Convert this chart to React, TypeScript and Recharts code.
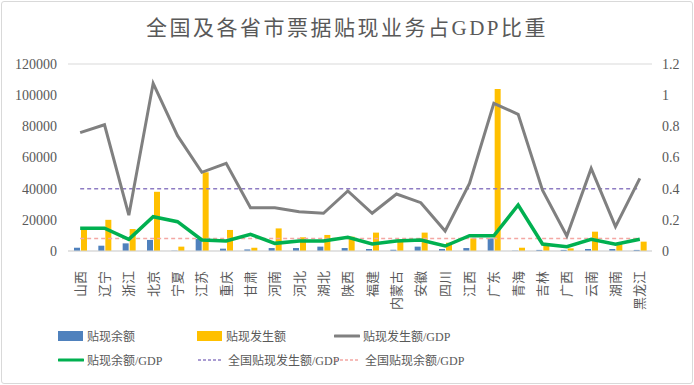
import React from 'react';
import { ComposedChart, Bar, Line, XAxis, YAxis, CartesianGrid } from 'recharts';

const provinces = ['山西', '辽宁', '浙江', '北京', '宁夏', '江苏', '重庆', '甘肃', '河南', '河北', '湖北', '陕西', '福建', '内蒙古', '安徽', '四川', '江西', '广东', '青海', '吉林', '广西', '云南', '湖南', '黑龙江'];

// 贴现余额
const balance = [2100, 3400, 4900, 7100, 200, 7700, 1500, 1000, 1900, 1900, 2800, 1900, 1300, 800, 2800, 1300, 1900, 8100, 200, 700, 700, 1300, 1300, 700];
// 贴现发生额
const amount = [13500, 20000, 14100, 38000, 2800, 50500, 13500, 2100, 14500, 8800, 10300, 9200, 11800, 7500, 11800, 5300, 8100, 104000, 2100, 4000, 1700, 12400, 5300, 6000];
// 贴现发生额/GDP
const amountRatio = [0.76, 0.81, 0.23, 1.076, 0.74, 0.505, 0.563, 0.278, 0.278, 0.252, 0.242, 0.385, 0.242, 0.366, 0.31, 0.128, 0.434, 0.948, 0.877, 0.39, 0.096, 0.53, 0.156, 0.466];
// 贴现余额/GDP
const balanceRatio = [0.146, 0.146, 0.075, 0.22, 0.188, 0.071, 0.064, 0.107, 0.049, 0.064, 0.064, 0.088, 0.045, 0.064, 0.071, 0.032, 0.098, 0.098, 0.295, 0.045, 0.028, 0.075, 0.043, 0.075];
const nationalAmountRatio = 0.4;
const nationalBalanceRatio = 0.08;

const leftTicks = [0, 20000, 40000, 60000, 80000, 100000, 120000];
const rightTicks = [0, 0.2, 0.4, 0.6, 0.8, 1, 1.2];

const data = provinces.map((name, i) => ({
  name,
  balance: balance[i],
  amount: amount[i],
  amountRatio: amountRatio[i],
  balanceRatio: balanceRatio[i],
  natAmount: nationalAmountRatio,
  natBalance: nationalBalanceRatio,
}));

const COLORS = {
  balance: '#4F81BD',
  amount: '#FFC000',
  amountRatio: '#808080',
  balanceRatio: '#00B050',
  natAmount: '#8E7CC3',
  natBalance: '#F4A7A3',
};

const serif = '"Liberation Serif", "Noto Sans CJK SC", serif';
const textColor = '#595959';

const CategoryTick = (props: any) => {
  const { x, y, payload } = props;
  return (
    <g transform={`translate(${x},${y})`}>
      <text transform="rotate(-90)" x={-12} y={0} dy="0.35em" textAnchor="end"
        fill={textColor} fontSize={13} fontFamily={serif}>
        {payload.value}
      </text>
    </g>
  );
};

const legendItems = [
  { label: '贴现余额', color: COLORS.balance, kind: 'box', x: 58, y: 336 },
  { label: '贴现发生额', color: COLORS.amount, kind: 'box', x: 197, y: 336 },
  { label: '贴现发生额/GDP', color: COLORS.amountRatio, kind: 'line', x: 334, y: 336 },
  { label: '贴现余额/GDP', color: COLORS.balanceRatio, kind: 'line', x: 58, y: 360 },
  { label: '全国贴现发生额/GDP', color: COLORS.natAmount, kind: 'dash', x: 197, y: 360 },
  { label: '全国贴现余额/GDP', color: COLORS.natBalance, kind: 'dash', x: 334, y: 360 },
];

const LegendIcon = ({ kind, color }: { kind: string; color: string }) => {
  if (kind === 'box') {
    return <svg width={26} height={12}><rect x={0} y={1} width={25} height={10} fill={color} /></svg>;
  }
  if (kind === 'line') {
    return <svg width={26} height={12}><line x1={1} y1={6} x2={25} y2={6} stroke={color} strokeWidth={3} strokeLinecap="round" /></svg>;
  }
  return <svg width={26} height={12}><line x1={1} y1={6} x2={24} y2={6} stroke={color} strokeWidth={1.5} strokeDasharray="3 2" /></svg>;
};

export default function App() {
  return (
    <div style={{ position: 'absolute', left: 0, top: 0, width: 694, height: 385, background: '#fff', overflow: 'hidden' }}>
      <div style={{ position: 'absolute', left: 1, top: 1, width: 690, height: 381, border: '1px solid #d9d9d9', borderRadius: 3 }} />
      <div style={{ position: 'absolute', left: 0, top: 12, width: 694, textAlign: 'center', fontSize: 21, letterSpacing: 2.5, color: textColor, fontFamily: serif, lineHeight: '32px' }}>
        全国及各省市票据贴现业务占GDP比重
      </div>
      <div style={{ position: 'absolute', left: 0, top: 0 }}>
        <ComposedChart width={694} height={385} data={data} margin={{ top: 64, right: 0, bottom: 74, left: 0 }} barSize={6} barGap={1}>
          <CartesianGrid vertical={false} stroke="#d9d9d9" />
          <XAxis dataKey="name" interval={0} height={60} tickLine={false} axisLine={{ stroke: '#d9d9d9' }} tick={<CategoryTick />} />
          <YAxis yAxisId="left" width={68} domain={[0, 120000]} ticks={leftTicks} axisLine={false} tickLine={false} tickSize={0} tickMargin={11}
            tick={{ fill: textColor, fontSize: 14, fontFamily: serif }} />
          <YAxis yAxisId="right" orientation="right" width={42} domain={[0, 1.2]} ticks={rightTicks} axisLine={false} tickLine={false} tickSize={0} tickMargin={10}
            tick={{ fill: textColor, fontSize: 14, fontFamily: serif }} />
          <Bar yAxisId="left" dataKey="balance" fill={COLORS.balance} isAnimationActive={false} />
          <Bar yAxisId="left" dataKey="amount" fill={COLORS.amount} isAnimationActive={false} />
          <Line yAxisId="right" dataKey="natAmount" stroke={COLORS.natAmount} strokeWidth={1.5} strokeDasharray="4 3" dot={false} isAnimationActive={false} />
          <Line yAxisId="right" dataKey="natBalance" stroke={COLORS.natBalance} strokeWidth={1.5} strokeDasharray="4 3" dot={false} isAnimationActive={false} />
          <Line yAxisId="right" dataKey="amountRatio" stroke={COLORS.amountRatio} strokeWidth={3} dot={false} isAnimationActive={false} />
          <Line yAxisId="right" dataKey="balanceRatio" stroke={COLORS.balanceRatio} strokeWidth={3.5} dot={false} isAnimationActive={false} />
        </ComposedChart>
      </div>
      {legendItems.map((it) => (
        <div key={it.label} style={{ position: 'absolute', left: it.x, top: it.y - 9, height: 18, display: 'flex', alignItems: 'center', fontSize: 12, color: textColor, fontFamily: serif, whiteSpace: 'nowrap' }}>
          <LegendIcon kind={it.kind} color={it.color} />
          <span style={{ marginLeft: it.kind === 'dash' ? 5 : 3 }}>{it.label}</span>
        </div>
      ))}
    </div>
  );
}
